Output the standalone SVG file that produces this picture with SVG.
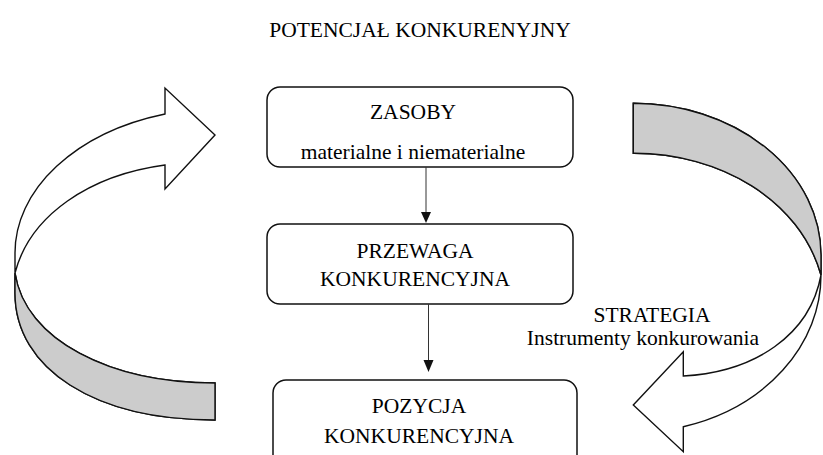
<svg xmlns="http://www.w3.org/2000/svg" width="823" height="455" viewBox="0 0 823 455">
  <style>
    .lbl { font-family: "Liberation Serif", "Times New Roman", "DejaVu Serif", serif; font-size: 21.5px; fill: #000; text-anchor: middle; }
    .box { fill: #fff; stroke: #111; stroke-width: 1.5; }
    .band { fill: #fff; stroke: #111; stroke-width: 1.4; stroke-linejoin: miter; }
    .shade { fill: #cccccc; stroke: #111; stroke-width: 1.4; }
    .conn { stroke: #333; stroke-width: 1; fill: none; }
    .head { fill: #111; }
  </style>
  <rect width="823" height="455" fill="#fff"/>

  <text class="lbl" x="420" y="37">POTENCJAŁ KONKURENYJNY</text>

  <!-- left loop arrow: upward-pointing ribbon, shaded back side at the bottom -->
  <g id="loop-left">
    <path class="band" d="M215,420 C95,420 15,369 15,293 L15,253 A210,145 0 0 1 165,114 L165,88 L215,135 L165,189 L165,165 C90,175 30,215 15,273 C25,340 110,383 215,383 Z"/>
    <path class="shade" d="M15,273 L15,293 C15,369 95,420 215,420 L215,383 C110,383 25,340 15,273 Z"/>
  </g>

  <!-- right loop arrow: shaded back side at the top, head pointing left -->
  <g id="loop-right">
    <path class="band" d="M633.3,103.3 A188,152 0 0 1 821,255 L821,275 A188,157.4 0 0 1 683.3,426.7 L683.3,451.7 L633.3,405 L683.3,351.7 L683.3,376 C755,372 810,335 821,275 C800,200 720,153 633.3,153.3 Z"/>
    <path class="shade" d="M633.3,103.3 A188,152 0 0 1 821,255 L821,275 C800,200 720,153 633.3,153.3 Z"/>
  </g>

  <g id="zasoby">
    <rect class="box" x="267" y="87" width="306" height="80" rx="13"/>
    <text class="lbl" x="413" y="119">ZASOBY</text>
    <text class="lbl" x="413" y="159">materialne i niematerialne</text>
  </g>

  <g id="przewaga">
    <rect class="box" x="267" y="224" width="306" height="80" rx="13"/>
    <text class="lbl" x="415" y="258">PRZEWAGA</text>
    <text class="lbl" x="415" y="286">KONKURENCYJNA</text>
  </g>

  <g id="pozycja">
    <rect class="box" x="273" y="380" width="304" height="90" rx="13"/>
    <text class="lbl" x="419" y="413">POZYCJA</text>
    <text class="lbl" x="419" y="443">KONKURENCYJNA</text>
  </g>

  <g id="strategia">
    <text class="lbl" x="652" y="322">STRATEGIA</text>
    <text class="lbl" x="643" y="345">Instrumenty konkurowania</text>
  </g>

  <g id="connectors">
    <line class="conn" x1="426" y1="167" x2="426" y2="213"/>
    <polygon class="head" points="421,212 431,212 426,223"/>
    <line class="conn" x1="428.5" y1="304" x2="428.5" y2="361"/>
    <polygon class="head" points="423.5,360 433.5,360 428.5,372"/>
  </g>
</svg>
